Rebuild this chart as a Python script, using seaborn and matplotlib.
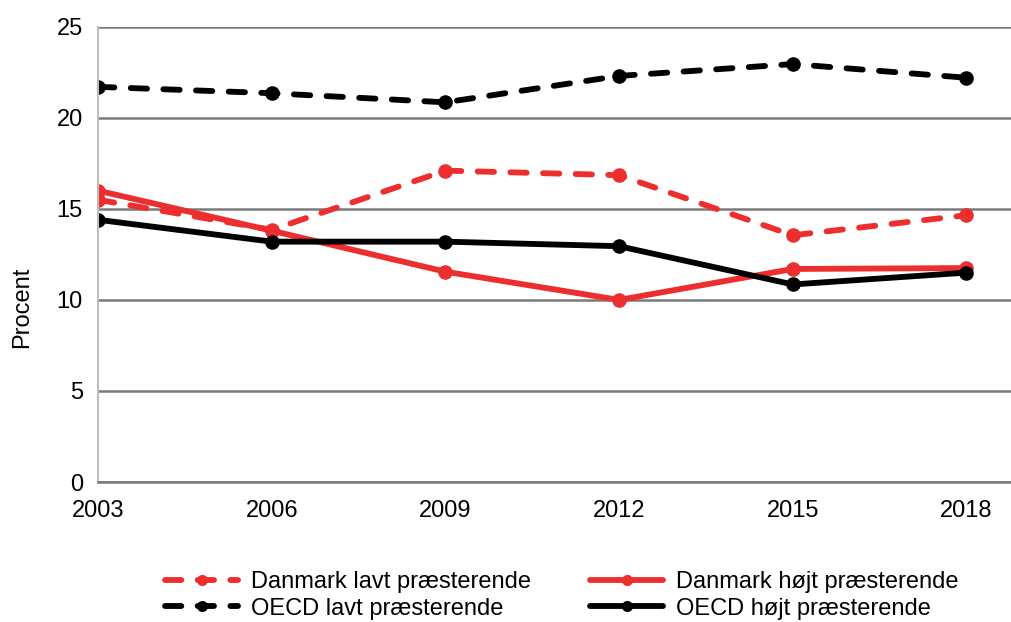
import pandas as pd
import matplotlib.pyplot as plt
import seaborn as sns

years = [2003, 2006, 2009, 2012, 2015, 2018]
dk_lavt = [15.5, 13.85, 17.1, 16.85, 13.55, 14.65]
dk_hojt = [16.0, 13.8, 11.55, 10.0, 11.7, 11.75]
oecd_lavt = [21.7, 21.35, 20.85, 22.3, 22.95, 22.2]
oecd_hojt = [14.4, 13.2, 13.2, 12.95, 10.85, 11.5]

red = '#ED2E2F'
series = [
    ('Danmark lavt præsterende', dk_lavt, red, True),
    ('OECD lavt præsterende', oecd_lavt, 'black', True),
    ('Danmark højt præsterende', dk_hojt, red, False),
    ('OECD højt præsterende', oecd_hojt, 'black', False),
]

sns.set_style('white')
plt.rcParams['font.family'] = ['Liberation Sans', 'DejaVu Sans']
plt.rcParams['text.color'] = 'black'
plt.rcParams['xtick.color'] = 'black'
plt.rcParams['ytick.color'] = 'black'

fig = plt.figure(figsize=(10.11, 6.22), dpi=100)
ax = fig.add_axes([0.097, 0.225, 0.903, 0.732])

for name, vals, col, dashed in series:
    df = pd.DataFrame({'year': years, 'value': vals})
    sns.lineplot(data=df, x='year', y='value', ax=ax, color=col, linewidth=4.2,
                 marker='o', label=name)
    ln = ax.lines[-1]
    ln.set_markersize(10.5)
    ln.set_markeredgewidth(0)
    ln.set_markerfacecolor(col)
    if dashed:
        ln.set_dashes([2.8, 2.8])
        ln.set_dash_capstyle('round')

ax.set_xlim(2003, 2018.77)
ax.set_ylim(0, 25)
ax.set_xticks(years)
ax.set_yticks([0, 5, 10, 15, 20, 25])
ax.tick_params(axis='both', labelsize=17, length=0)
ax.tick_params(axis='y', pad=11)
ax.tick_params(axis='x', pad=13)
ax.set_xlabel('')
ax.set_ylabel('')
fig.text(22 / 1011, 1 - 307 / 622, 'Procent', rotation=90, ha='center', va='center', fontsize=17)
ax.yaxis.grid(True, color='#7a7a7a', linewidth=1.8)
ax.set_axisbelow(True)
for s in ['top', 'right']:
    ax.spines[s].set_visible(False)
ax.spines['left'].set_color('#bdbdbd')
ax.spines['left'].set_linewidth(1.5)
ax.spines['bottom'].set_color('#7a7a7a')
ax.spines['bottom'].set_linewidth(1.8)

handles, labels = ax.get_legend_handles_labels()
leg = ax.legend(handles, labels, ncol=2, loc='upper left', bbox_to_anchor=(165 / 1011, 1 - 571 / 622),
                bbox_transform=fig.transFigure, frameon=False, fontsize=17, handlelength=3.1,
                handletextpad=0.55, columnspacing=2.5, labelspacing=0.2, borderpad=0, borderaxespad=0)
for h in leg.legend_handles:
    h.set_markersize(8)
    h.set_markeredgewidth(0)

fig.savefig('out.png', dpi=100)
